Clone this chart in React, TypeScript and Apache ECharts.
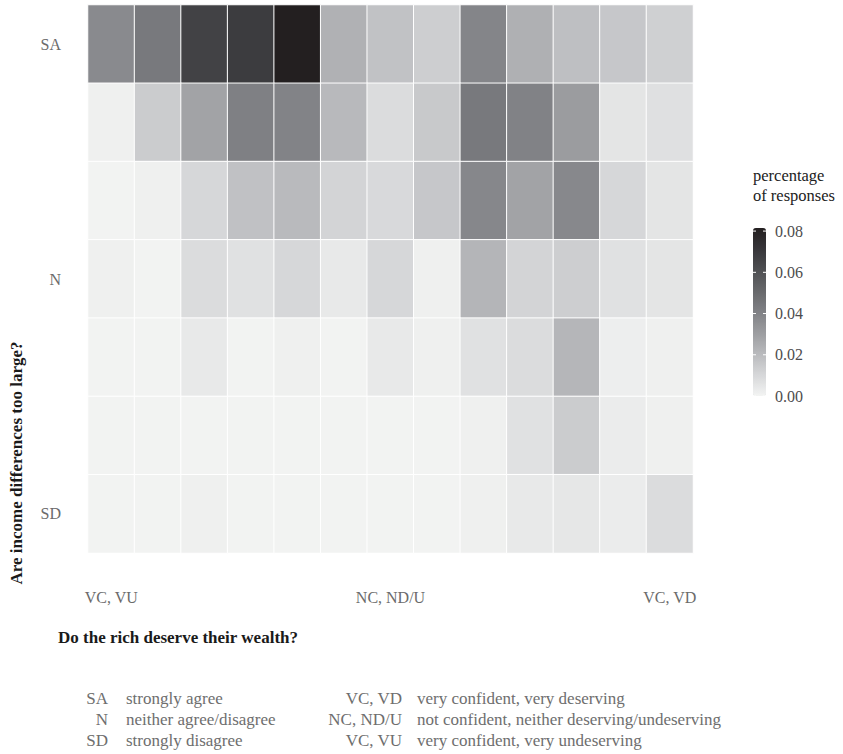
import React, { useEffect, useRef } from "react";
import * as echarts from "echarts";

// Response shares for each agreement level (rows, top to bottom),
// across the 13 deserving/confidence categories (columns, left to right).
const rowStronglyAgree = [0.0374, 0.044, 0.0666, 0.069, 0.0815, 0.0236, 0.0176, 0.0134, 0.0393, 0.0239, 0.0186, 0.0158, 0.0127];
const rowAgree2 = [0.0014, 0.0141, 0.0285, 0.0413, 0.0401, 0.0208, 0.0085, 0.0151, 0.044, 0.0405, 0.031, 0.0053, 0.0071];
const rowAgree3 = [0.0003, 0.0014, 0.0102, 0.018, 0.0204, 0.0113, 0.0095, 0.0158, 0.0386, 0.0285, 0.0382, 0.0102, 0.0053];
const rowNeither = [0.0014, 0.0003, 0.0085, 0.0067, 0.0102, 0.0039, 0.0102, 0.0014, 0.0222, 0.0113, 0.0134, 0.0067, 0.0053];
const rowDisagree5 = [0.0003, 0.0003, 0.0039, 0.0004, 0.0014, 0.0003, 0.0039, 0.0014, 0.0067, 0.0085, 0.0218, 0.0021, 0.0014];
const rowDisagree6 = [0.0002, 0.0003, 0.0003, 0.0002, 0.0003, 0.0002, 0.0003, 0.0003, 0.0014, 0.0067, 0.0141, 0.0028, 0.0014];
const rowStronglyDisagree = [0.0003, 0.0003, 0.0014, 0.0003, 0.0003, 0.0002, 0.0004, 0.0003, 0.0014, 0.0039, 0.0046, 0.0028, 0.0085];

const rows = [rowStronglyAgree, rowAgree2, rowAgree3, rowNeither, rowDisagree5, rowDisagree6, rowStronglyDisagree];

const xCategories = ["1", "2", "3", "4", "5", "6", "7", "8", "9", "10", "11", "12", "13"];
const xTickLabels = ["VC, VU", "", "", "", "", "", "NC, ND/U", "", "", "", "", "", "VC, VD"];
const yCategories = ["1", "2", "3", "4", "5", "6", "7"];
const yTickLabels = ["SA", "", "", "N", "", "", "SD"];

const colorbarTicks = [0, 0.02, 0.04, 0.06, 0.08];
const scaleMin = 0;
const scaleMax = 0.0815;

const keyLeftAbbrev = ["SA", "N", "SD"];
const keyLeftText = ["strongly agree", "neither agree/disagree", "strongly disagree"];
const keyRightAbbrev = ["VC, VD", "NC, ND/U", "VC, VU"];
const keyRightText = [
  "very confident, very deserving",
  "not confident, neither deserving/undeserving",
  "very confident, very undeserving",
];

const FONT = "'Liberation Serif', 'Times New Roman', serif";

export default function App() {
  const ref = useRef<HTMLDivElement>(null);

  useEffect(() => {
    if (!ref.current) return;
    const chart = echarts.init(ref.current, null, { renderer: "svg" });

    const cells: [number, number, number][] = [];
    rows.forEach((row, yi) => row.forEach((v, xi) => cells.push([xi, yi, v])));

    const barTop = 228;
    const barHeight = 168;
    const barLeft = 753;
    const barWidth = 13;
    const valueToY = (v: number) => barTop + ((scaleMax - v) / (scaleMax - scaleMin)) * barHeight;

    const txt = (text: string, size: number, fill: string, extra: any = {}) => ({
      text,
      fontSize: size,
      fontFamily: FONT,
      fontWeight: "normal",
      fill,
      verticalAlign: "middle",
      ...extra,
    });

    const graphics: any[] = [];
    // colour bar ticks and labels
    colorbarTicks.forEach((t) => {
      const y = valueToY(t);
      graphics.push({
        type: "line",
        shape: { x1: barLeft, y1: y, x2: barLeft + 3, y2: y },
        style: { stroke: "#ffffff", lineWidth: 1 },
        z: 100,
      });
      graphics.push({
        type: "line",
        shape: { x1: barLeft + barWidth - 3, y1: y, x2: barLeft + barWidth, y2: y },
        style: { stroke: "#ffffff", lineWidth: 1 },
        z: 100,
      });
      graphics.push({ type: "text", x: 775, y, style: txt(t.toFixed(2), 16, "#4d4d4d") });
    });
    // colour bar title, two lines
    graphics.push({ type: "text", x: 753, y: 175.5, style: txt("percentage", 16.5, "#222") });
    graphics.push({ type: "text", x: 753, y: 195.5, style: txt("of responses", 16.5, "#222") });
    // axis titles
    graphics.push({
      type: "text",
      x: 58,
      y: 637,
      style: txt("Do the rich deserve their wealth?", 17, "#1a1a1a", { fontWeight: "bold" }),
    });
    graphics.push({
      type: "text",
      x: 16,
      y: 463,
      rotation: Math.PI / 2,
      style: txt("Are income differences too large?", 17, "#1a1a1a", { fontWeight: "bold", align: "center" }),
    });
    // abbreviation key
    const keyRowsY = [698, 719, 740];
    keyRowsY.forEach((y, i) => {
      graphics.push({ type: "text", x: 108, y, style: txt(keyLeftAbbrev[i], 17, "#6e6e6e", { align: "right" }) });
      graphics.push({ type: "text", x: 126, y, style: txt(keyLeftText[i], 17, "#6e6e6e") });
      graphics.push({ type: "text", x: 402, y, style: txt(keyRightAbbrev[i], 17, "#6e6e6e", { align: "right" }) });
      graphics.push({ type: "text", x: 417, y, style: txt(keyRightText[i], 17, "#6e6e6e") });
    });

    chart.setOption({
      animation: false,
      backgroundColor: "#ffffff",
      textStyle: { fontFamily: FONT },
      grid: { left: 88, top: 5, width: 605, height: 548 },
      xAxis: {
        type: "category",
        data: xCategories,
        axisLine: { show: false },
        axisTick: { show: false },
        splitLine: { show: false },
        axisLabel: {
          interval: 0,
          margin: 36,
          fontSize: 16,
          fontFamily: FONT,
          color: "#6b6b6b",
          formatter: (_v: string, i: number) => xTickLabels[i],
        },
      },
      yAxis: {
        type: "category",
        data: yCategories,
        inverse: true,
        axisLine: { show: false },
        axisTick: { show: false },
        splitLine: { show: false },
        axisLabel: {
          interval: 0,
          margin: 27,
          fontSize: 16,
          fontFamily: FONT,
          color: "#6b6b6b",
          formatter: (_v: string, i: number) => yTickLabels[i],
        },
      },
      visualMap: {
        type: "continuous",
        min: scaleMin,
        max: scaleMax,
        show: true,
        calculable: false,
        hoverLink: false,
        left: barLeft,
        top: barTop,
        padding: 0,
        itemWidth: barWidth,
        itemHeight: barHeight,
        text: null,
        showLabel: false,
        inRange: {
          color: [
            "#f3f4f3",
            "#d6d7d9",
            "#b9babd",
            "#9c9da0",
            "#808185",
            "#67686b",
            "#4e4f52",
            "#37363a",
            "#231f20",
          ],
        },
      },
      graphic: graphics,
      series: [
        {
          type: "heatmap",
          data: cells,
          itemStyle: { borderColor: "#ffffff", borderWidth: 1 },
          emphasis: { disabled: true },
        },
      ],
    });

    return () => chart.dispose();
  }, []);

  return (
    <div
      ref={ref}
      style={{ position: "fixed", left: 0, top: 0, width: 843, height: 754, background: "#fff" }}
    />
  );
}
